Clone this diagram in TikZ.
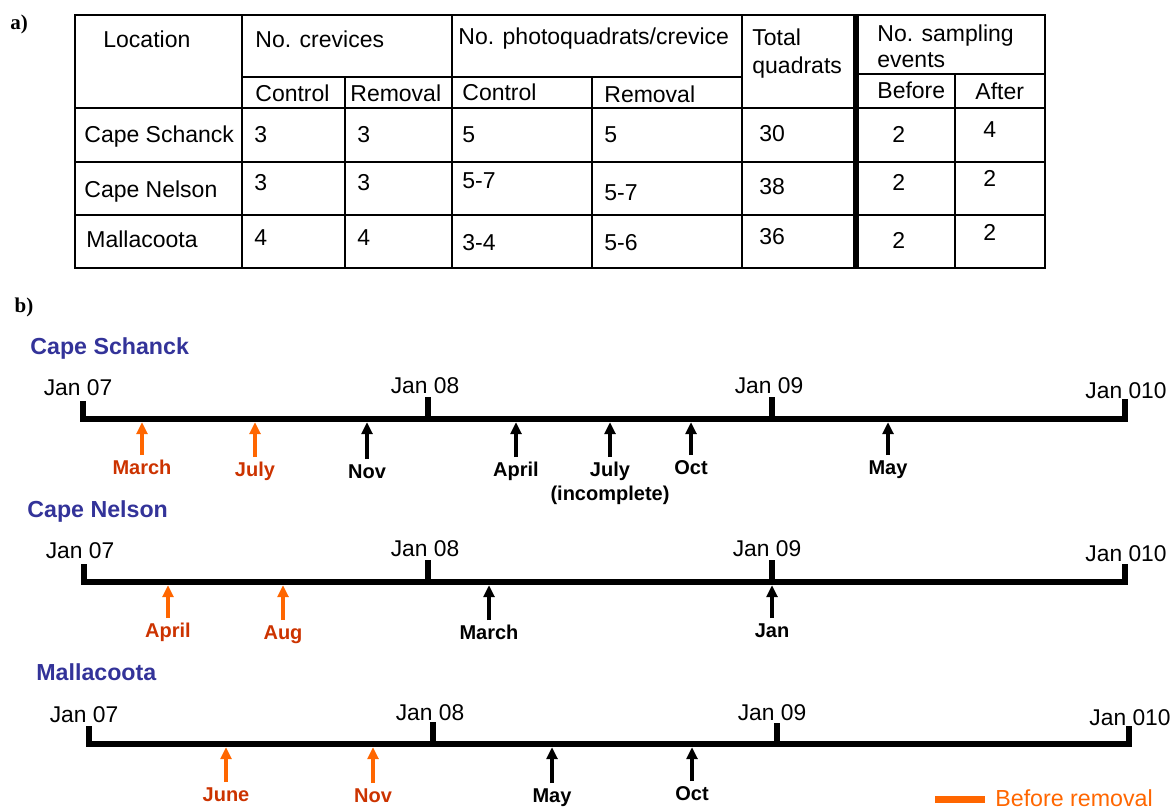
\documentclass[tikz,border=0pt]{standalone}
\usepackage{fontspec}
\setmainfont{Liberation Sans}
\newfontfamily\partfont{Liberation Serif}
\usetikzlibrary{arrows.meta}
\definecolor{siteblue}{RGB}{51,51,153}
\definecolor{monred}{RGB}{204,51,0}
\definecolor{remorange}{RGB}{255,102,0}

\begin{document}
\begin{tikzpicture}[
      x=0.5pt, y=-0.5pt,
      tb/.style={font=\fontsize{11.5}{14}\selectfont, inner sep=0pt, anchor=base west},
      hd/.style={tb, anchor=north west, align=left},
      grid/.style={line width=0.8pt},
      frame/.style={line width=1.2pt},
      sep/.style={line width=2.6pt},
      part/.style={font=\partfont\bfseries\fontsize{10.5}{12}\selectfont, inner sep=0pt},
      site/.style={font=\bfseries\fontsize{11.6}{14}\selectfont, text=siteblue, inner sep=0pt, anchor=base west},
      date/.style={font=\fontsize{11.4}{13}\selectfont, inner sep=0pt, anchor=base},
      axis/.style={line width=3.2pt},
      mon/.style={font=\bfseries\fontsize{10}{12}\selectfont, align=center, inner sep=0pt, anchor=north},
      bef/.style={mon, text=monred},
      arr/.style={-{Triangle[length=6pt, width=5.5pt]}, line width=1.6pt, shorten <=2.5pt, shorten >=1.6pt},
      barr/.style={arr, draw=remorange},
      leg/.style={line width=3.5pt, draw=remorange}]
    \useasboundingbox (0,0) rectangle (1173,808);
    % panel letters
    \node[part] (pa) at (19,24) {a)};
    \node[part] (pb) at (24,307) {b)};
    % table rules
    \draw[frame] (75,15) rectangle (1045,268);
    \draw[grid] (242,15) -- (242,268);
    \draw[grid] (452,15) -- (452,268);
    \draw[grid] (742,15) -- (742,268);
    \draw[grid] (345,77) -- (345,268);
    \draw[grid] (592,77) -- (592,268);
    \draw[grid] (955,74) -- (955,268);
    \draw[grid] (242,77) -- (742,77);
    \draw[grid] (856,74) -- (1045,74);
    \draw[grid] (75,108) -- (1045,108);
    \draw[grid] (75,162) -- (1045,162);
    \draw[grid] (75,215) -- (1045,215);
    \draw[sep] (856,15) -- (856,268);
    % table header
    \node[tb] (hloc) at (103,48) {Location};
    \node[tb] (hcrev) at (255,48) {No. crevices};
    \node[tb] (hphoto) at (458,45) {No. photoquadrats/crevice};
    \node[hd] (htot) at (752,28) {Total\\quadrats};
    \node[hd, font=\fontsize{11.5}{13}\selectfont] (hsamp) at (877,24) {No. sampling\\events};
    \node[tb] (hcc) at (255,102) {Control};
    \node[tb] (hcr) at (350,102) {Removal};
    \node[tb] (hpc) at (462,101) {Control};
    \node[tb] (hpr) at (604,103) {Removal};
    \node[tb] (hbef) at (877,99) {Before};
    \node[tb] (haft) at (975,100) {After};
    % table rows
    \node[tb] (r1) at (84,143) {Cape Schanck};
    \node[tb] (r1a) at (254,143) {3};
    \node[tb] (r1b) at (357,143) {3};
    \node[tb] (r1c) at (462,143) {5};
    \node[tb] (r1d) at (604,143) {5};
    \node[tb] (r1e) at (759,141) {30};
    \node[tb] (r1f) at (892,143) {2};
    \node[tb] (r1g) at (983,138) {4};
    \node[tb] (r2) at (84,198) {Cape Nelson};
    \node[tb] (r2a) at (254,191) {3};
    \node[tb] (r2b) at (357,191) {3};
    \node[tb] (r2c) at (462,189) {5-7};
    \node[tb] (r2d) at (604,200) {5-7};
    \node[tb] (r2e) at (759,194) {38};
    \node[tb] (r2f) at (892,191) {2};
    \node[tb] (r2g) at (983,186) {2};
    \node[tb] (r3) at (86,247) {Mallacoota};
    \node[tb] (r3a) at (254,245) {4};
    \node[tb] (r3b) at (357,245) {4};
    \node[tb] (r3c) at (462,250) {3-4};
    \node[tb] (r3d) at (604,250) {5-6};
    \node[tb] (r3e) at (759,244) {36};
    \node[tb] (r3f) at (892,248) {2};
    \node[tb] (r3g) at (983,241) {2};
    % Cape Schanck timeline
    \node[site] (cs) at (30,354) {Cape Schanck};
    \coordinate (cs07) at (83,419);
    \coordinate (cs08) at (428,419);
    \coordinate (cs09) at (772,419);
    \coordinate (cs10) at (1125,419);
    \draw[axis] (cs07) ++(0,-18) -- (cs07) -- (cs10) -- ++(0,-20);
    \draw[axis] (cs08) -- ++(0,-22);
    \draw[axis] (cs09) -- ++(0,-22);
    \node[date] (cs07l) at (78,395) {Jan 07};
    \node[date] (cs08l) at (425,393) {Jan 08};
    \node[date] (cs09l) at (769,393) {Jan 09};
    \node[date] (cs10l) at (1126,398) {Jan 010};
    \node[bef] (csa) at (142,460) {March};
    \node[bef] (csb) at (255,462) {July};
    \node[mon] (csc) at (367,464) {Nov};
    \node[mon] (csd) at (516,462) {April};
    \node[mon] (cse) at (610,462) {July\\(incomplete)};
    \node[mon] (csf) at (691,460) {Oct};
    \node[mon] (csg) at (888,460) {May};
    \draw[barr] (csa.north) -- (csa.north |- cs07);
    \draw[barr] (csb.north) -- (csb.north |- cs07);
    \draw[arr] (csc.north) -- (csc.north |- cs07);
    \draw[arr] (csd.north) -- (csd.north |- cs07);
    \draw[arr] (cse.north) -- (cse.north |- cs07);
    \draw[arr] (csf.north) -- (csf.north |- cs07);
    \draw[arr] (csg.north) -- (csg.north |- cs07);
    % Cape Nelson timeline
    \node[site] (cn) at (27,517) {Cape Nelson};
    \coordinate (cn07) at (84,582);
    \coordinate (cn08) at (428,582);
    \coordinate (cn09) at (772,582);
    \coordinate (cn10) at (1125,582);
    \draw[axis] (cn07) ++(0,-18) -- (cn07) -- (cn10) -- ++(0,-18);
    \draw[axis] (cn08) -- ++(0,-22);
    \draw[axis] (cn09) -- ++(0,-22);
    \node[date] (cn07l) at (80,558) {Jan 07};
    \node[date] (cn08l) at (425,556) {Jan 08};
    \node[date] (cn09l) at (767,556) {Jan 09};
    \node[date] (cn10l) at (1126,561) {Jan 010};
    \node[bef] (cna) at (168,623) {April};
    \node[bef] (cnb) at (283,625) {Aug};
    \node[mon] (cnc) at (489,625) {March};
    \node[mon] (cnd) at (772,623) {Jan};
    \draw[barr] (cna.north) -- (cna.north |- cn07);
    \draw[barr] (cnb.north) -- (cnb.north |- cn07);
    \draw[arr] (cnc.north) -- (cnc.north |- cn07);
    \draw[arr] (cnd.north) -- (cnd.north |- cn07);
    % Mallacoota timeline
    \node[site] (ma) at (36,680) {Mallacoota};
    \coordinate (ma07) at (89,744);
    \coordinate (ma08) at (433,744);
    \coordinate (ma09) at (777,744);
    \coordinate (ma10) at (1129,744);
    \draw[axis] (ma07) ++(0,-18) -- (ma07) -- (ma10) -- ++(0,-18);
    \draw[axis] (ma08) -- ++(0,-22);
    \draw[axis] (ma09) -- ++(0,-21);
    \node[date] (ma07l) at (84,722) {Jan 07};
    \node[date] (ma08l) at (430,720) {Jan 08};
    \node[date] (ma09l) at (772,720) {Jan 09};
    \node[date] (ma10l) at (1130,725) {Jan 010};
    \node[bef] (maa) at (226,787) {June};
    \node[bef] (mab) at (373,788) {Nov};
    \node[mon] (mac) at (552,788) {May};
    \node[mon] (mad) at (692,786) {Oct};
    \draw[barr] (maa.north) -- (maa.north |- ma07);
    \draw[barr] (mab.north) -- (mab.north |- ma07);
    \draw[arr] (mac.north) -- (mac.north |- ma07);
    \draw[arr] (mad.north) -- (mad.north |- ma07);
    % legend
    \node[anchor=base west, inner sep=0pt, font=\fontsize{11.6}{14}\selectfont, text=remorange] (legt) at (995,806) {Before removal};
    \draw[leg] (legt.west) ++(-10,2) -- ++(-50,0);
  \end{tikzpicture}
\end{document}
